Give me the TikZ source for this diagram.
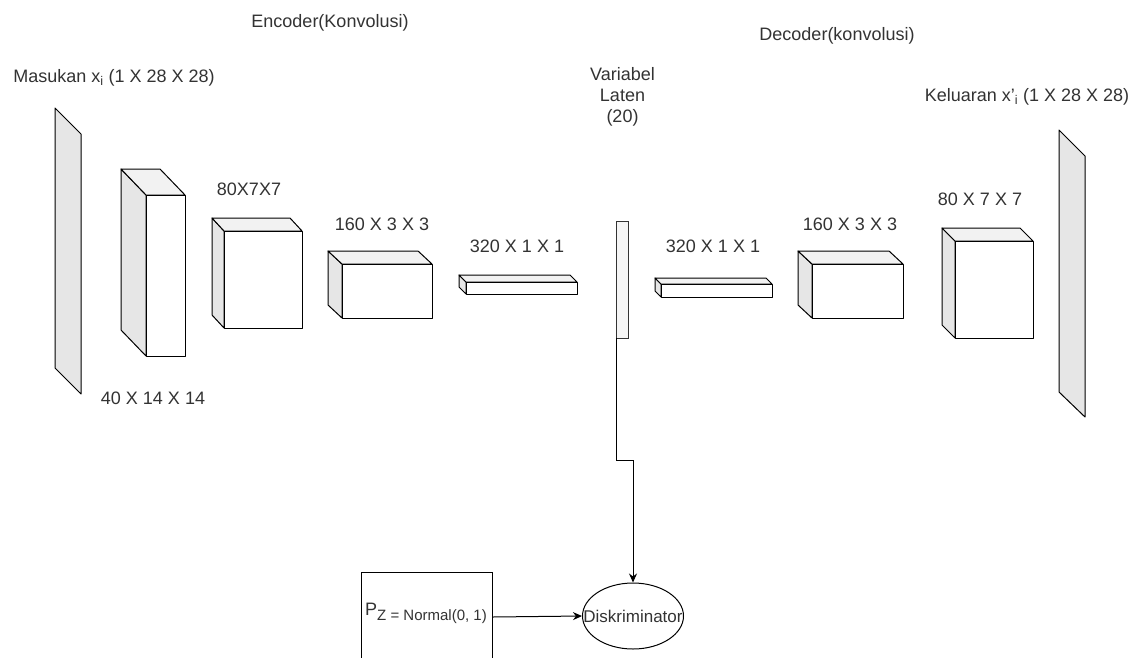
\documentclass[tikz,border=0pt]{standalone}
\usepackage{fontspec}
\setmainfont{Liberation Sans}
\usetikzlibrary{shapes.geometric,arrows.meta}
\definecolor{sidef}{HTML}{E6E6E6}
\definecolor{topf}{HTML}{F2F2F2}
\definecolor{latf}{HTML}{F5F5F5}
\definecolor{txt}{HTML}{333333}
\tikzset{
  face/.style={draw=black, line width=1pt, line join=round},
  lbl/.style={text=txt, font=\fontsize{18}{21}\selectfont, inner sep=0pt},
  conn/.style={draw=black, line width=1pt},
  arr/.style={-{Stealth[length=9pt,width=8pt]}},
}
% name, x1, y1, x2, y2, depth x, depth y (front rectangle, depth toward upper left)
\newcommand\cuboid[7]{%
  \filldraw[face, fill=sidef] (#2,#3) -- (#2-#6,#3-#7) -- (#2-#6,#5-#7) -- (#2,#5) -- cycle;
  \filldraw[face, fill=topf] (#2,#3) -- (#2-#6,#3-#7) -- (#4-#6,#3-#7) -- (#4,#3) -- cycle;
  \node[face, fill=white, rectangle, inner sep=0pt, outer sep=0pt,
        minimum width={(#4-#2)*1pt}, minimum height={(#5-#3)*1pt}] (#1) at ({(#2+#4)/2},{(#3+#5)/2}) {};
}
\begin{document}
\begin{tikzpicture}[x=1pt,y=-1pt]
\clip (0,0) rectangle (1132,657);
\fill[white] (0,0) rectangle (1132,657);

% titles
\node[lbl] (enct) at (330,23) {Encoder(Konvolusi)};
\node[lbl] (dect) at (837,36) {Decoder(konvolusi)};
\node[lbl] (inl) at (114,78) {Masukan x\textsubscript{i} (1 X 28 X 28)};
\node[lbl] (outl) at (1027,97) {Keluaran x'\textsubscript{i} (1 X 28 X 28)};
\node[lbl, align=center] (latl) at (622.5,97) {Variabel\\Laten\\(20)};

% input slab
\filldraw[face, fill=sidef] (55,108) -- (81,134) -- (81,394) -- (55,368) -- cycle;
\coordinate (inslab) at (68,251);

% encoder
\cuboid{e1}{146}{195}{185}{356}{25}{26}
\node[lbl] (e1l) at (153,398) {40 X 14 X 14};
\cuboid{e2}{224}{231}{302}{328}{12}{13}
\node[lbl] (e2l) at (249,189) {80X7X7};
\cuboid{e3}{342}{264}{432}{318}{14}{13}
\node[lbl] (e3l) at (382,224) {160 X 3 X 3};
\cuboid{e4}{466}{282}{577}{294}{7}{7}
\node[lbl] (e4l) at (517,246) {320 X 1 X 1};

% latent
\node[draw=black!80, line width=1pt, fill=latf, rectangle, inner sep=0pt, outer sep=0pt,
      minimum width=12pt, minimum height=117pt] (lat) at (622,279.5) {};

% decoder
\cuboid{d1}{661}{284}{772}{297}{6}{6}
\node[lbl] (d1l) at (713,246) {320 X 1 X 1};
\cuboid{d2}{812}{264}{903}{318}{14}{13}
\node[lbl] (d2l) at (850,224) {160 X 3 X 3};
\cuboid{d3}{955}{241}{1033}{338}{13}{13}
\node[lbl] (d3l) at (980,199) {80 X 7 X 7};

% output slab
\filldraw[face, fill=sidef] (1059,130) -- (1085,156) -- (1085,417) -- (1059,392) -- cycle;
\coordinate (outslab) at (1072,273);

% discriminator
\node[draw=black, line width=1pt, ellipse, inner sep=0pt, minimum width=101pt, minimum height=66pt] (disc) at (633,616) {};
\node[lbl, font=\fontsize{17}{20}\selectfont] (discl) at (disc.center) {Diskriminator};

% prior box
\node[draw=black, line width=1pt, rectangle, inner sep=0pt, minimum width=131pt, minimum height=90pt] (pz) at (426.5,617) {};
\node[lbl, anchor=west] (pzl) at (365,613) {P\raisebox{-5pt}{\fontsize{15}{17}\selectfont Z = Normal(0, 1)}};

% connectors
\draw[conn, arr] (lat.south west) -- ++(0,122) -| (disc.north);
\draw[conn, arr] (pz.east) -- (disc.west);
\end{tikzpicture}
\end{document}
